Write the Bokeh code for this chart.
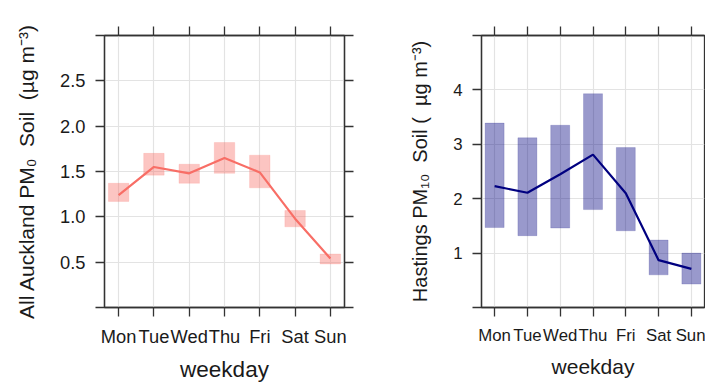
from bokeh.plotting import figure
from bokeh.layouts import row
from bokeh.models import LinearAxis, FixedTicker, CustomJSTickFormatter, ColumnDataSource
from bokeh.embed import file_html
from bokeh.resources import INLINE

# Weekday profiles of the soil component of PM (mean with 95% interval)
days = ["Mon", "Tue", "Wed", "Thu", "Fri", "Sat", "Sun"]
day_pos = [1, 2, 3, 4, 5, 6, 7]

auck_mean = [1.24, 1.55, 1.48, 1.65, 1.49, 0.98, 0.54]
auck_lower = [1.17, 1.46, 1.37, 1.48, 1.32, 0.89, 0.48]
auck_upper = [1.37, 1.70, 1.58, 1.82, 1.68, 1.07, 0.59]

hast_mean = [2.23, 2.11, 2.45, 2.81, 2.10, 0.87, 0.71]
hast_lower = [1.47, 1.32, 1.46, 1.80, 1.41, 0.60, 0.43]
hast_upper = [3.39, 3.12, 3.35, 3.93, 2.94, 1.24, 1.00]

auck_yticks = [0, 0.5, 1.0, 1.5, 2.0, 2.5, 3.0]
hast_yticks = [0, 1, 2, 3, 4, 5]

NB = "\u00a0"
auck_ylabel = f"All Auckland PM\u2080{NB}{NB}Soil{NB}{NB}(\u00b5g{NB}m\u207b\u00b3)"
hast_ylabel = f"Hastings PM\u2081\u2080{NB}{NB}Soil{NB}({NB}{NB}\u00b5g{NB}m\u207b\u00b3)"

FONT = "Liberation Sans"
FRAME = "#333333"
TEXT = "#1a1a1a"
GRID = "#e3e3e3"
HALF_W = 0.29


def day_formatter():
    return CustomJSTickFormatter(args=dict(names=days),
                                 code="return names[Math.round(tick) - 1] || '';")


def y_formatter(lo, hi, digits):
    return CustomJSTickFormatter(
        args=dict(lo=lo, hi=hi, d=digits),
        code="return (tick <= lo || tick >= hi) ? '' : tick.toFixed(d);")


blank = CustomJSTickFormatter(code="return '';")


def style_axis(ax, ticks, fmt, size):
    ax.ticker = FixedTicker(ticks=ticks)
    ax.formatter = fmt
    ax.axis_line_color = FRAME
    ax.axis_line_width = 1.3
    ax.major_tick_line_color = FRAME
    ax.major_tick_line_width = 1.3
    ax.major_tick_in = 0
    ax.major_tick_out = 9
    ax.minor_tick_line_color = None
    ax.major_label_text_font = FONT
    ax.major_label_text_font_size = size
    ax.major_label_text_color = TEXT
    ax.axis_label_text_font = FONT
    ax.axis_label_text_font_style = "normal"
    ax.axis_label_text_color = TEXT


def panel(width, borders, yr, yticks, ydig, mean, lower, upper, color,
          ylabel, tick_size, xlabel_size, ylabel_size, right_ticks):
    left, right, top, bottom = borders
    p = figure(width=width, height=386, x_range=(0.6, 7.4), y_range=yr,
               output_backend="svg", toolbar_location=None,
               min_border_left=left, min_border_right=right,
               min_border_top=top, min_border_bottom=bottom,
               background_fill_color="white", border_fill_color="white")
    p.outline_line_color = FRAME
    p.outline_line_width = 1.3

    p.xgrid.ticker = FixedTicker(ticks=day_pos)
    p.ygrid.ticker = FixedTicker(ticks=yticks[1:-1])
    for g in (p.xgrid[0], p.ygrid[0]):
        g.grid_line_color = GRID
        g.grid_line_width = 1.2

    src = ColumnDataSource(dict(
        x=day_pos, mean=mean,
        left=[d - HALF_W for d in day_pos], right=[d + HALF_W for d in day_pos],
        lower=lower, upper=upper))
    p.quad(left="left", right="right", bottom="lower", top="upper", source=src,
           fill_color=color, fill_alpha=0.4, line_color=color, line_alpha=0.15,
           line_width=1)
    p.line(x="x", y="mean", source=src, line_color=color, line_width=2.2)

    xa = p.xaxis[0]
    style_axis(xa, day_pos, day_formatter(), tick_size)
    xa.major_label_standoff = 9
    xa.axis_label = "weekday"
    xa.axis_label_text_font_size = xlabel_size
    xa.axis_label_standoff = 7

    ya = p.yaxis[0]
    style_axis(ya, yticks, y_formatter(yticks[0], yticks[-1], ydig), tick_size)
    ya.major_label_standoff = 10
    ya.axis_label = ylabel
    ya.axis_label_text_font_size = ylabel_size
    ya.axis_label_standoff = 19

    top_ax = LinearAxis()
    style_axis(top_ax, day_pos, blank, "1px")
    top_ax.major_label_standoff = 0
    p.add_layout(top_ax, "above")

    if right_ticks:
        right_ax = LinearAxis()
        style_axis(right_ax, yticks, blank, "1px")
        right_ax.major_label_standoff = 0
        p.add_layout(right_ax, "right")
    return p


p1 = panel(360, (104, 16, 32, 78), (0, 3.0), auck_yticks, 1,
           auck_mean, auck_lower, auck_upper, "#f86e66",
           auck_ylabel, "18.3px", "22.5px", "21px", True)
p2 = panel(345, (121, 1, 35, 79), (0, 5), hast_yticks, 0,
           hast_mean, hast_lower, hast_upper, "#000080",
           hast_ylabel, "16.8px", "21px", "20px", False)

layout = row(p1, p2)
open("out.html", "w").write(file_html(layout, INLINE))
